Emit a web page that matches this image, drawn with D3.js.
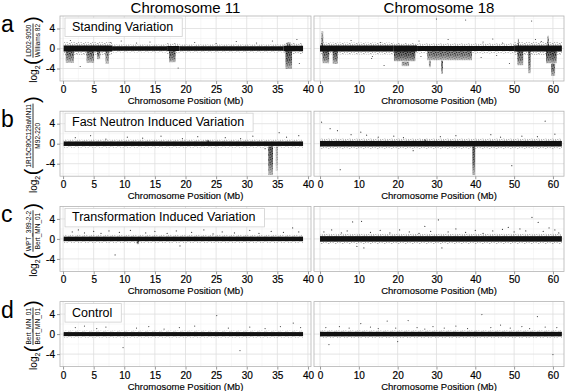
<!DOCTYPE html>
<html>
<head>
<meta charset="utf-8">
<script src="https://cdn.jsdelivr.net/npm/d3@7"></script>
<style>
  body { margin: 0; background: #fff; }
  svg { display: block; font-family: 'Liberation Sans', Arial, Helvetica, sans-serif; }
</style>
</head>
<body>
<svg id="chart" width="568" height="391"></svg>
<script>
/**
 * Data.
 */
const chromosomes = ['Chromosome 11', 'Chromosome 18'];
const panelLetters = ['a', 'b', 'c', 'd'];
const rowTitles = ['Standing Variation', 'Fast Neutron Induced Variation',
    'Transformation Induced Variation', 'Control'];
const numerators = ['LD02-9050', '1R15C80C129aMN11', 'WPT_389-2-2', 'Bert_MN_01'];
const denominators = ['Williams 82', 'M92-220', 'Bert_MN_01', 'Bert_MN_01'];

const xTicks11 = [0, 5, 10, 15, 20, 25, 30, 35, 40];
const xTicks18 = [0, 10, 20, 30, 40, 50, 60];
const yTicks = [-4, 0, 4];
const yMinorTicks = [-6, -2, 2, 6];

// band: [start Mb, end Mb, core half-width, spread half-width] (log2 units)
// clusters: [start Mb, end Mb, low, high, density]
// points: [Mb, log2 ratio]

// a - Standing variation
const bandA11 = [[0.1, 8, 0.6, 1.3], [8, 17, 0.45, 0.8], [17, 19, 0.5, 1.1], [19, 36, 0.45, 0.8], [36, 39.2, 0.55, 1.1]];
const clustersA11 = [[0.4, 1.8, -2.9, -0.5, 0.8], [3.8, 5.1, -2.9, -0.5, 0.8], [5.5, 6.1, -2.2, -0.5, 0.7],
    [6.9, 7.5, -3.1, -0.5, 0.7], [17.3, 18.4, -2.8, -0.5, 0.9], [36.3, 37.4, -4.1, -0.5, 1.0], [36.5, 37.2, 0.5, 1.3, 0.6]];
const pointsA11 = [[1.2, 1.6], [2.8, -3.6], [7.8, 1.2], [9.5, 1.5], [12, 1.1], [14.2, 1.3], [18.8, -3.9], [21.5, 1.2],
    [25, 1.0], [28.3, 1.4], [31.6, 1.1], [34.2, 1.5], [38.2, 1.8], [38.6, -3.0]];

const bandA18 = [[0, 19, 0.6, 1.2], [19, 25, 0.6, 1.1], [25, 50, 0.5, 1.0], [50, 62.3, 0.6, 1.3]];
const clustersA18 = [[0.3, 0.9, 0.5, 3.5, 0.7], [0.6, 2.4, -3.0, -0.5, 0.9], [3.2, 4.6, -3.1, -0.5, 0.9],
    [19.0, 24.6, -2.6, -0.5, 1.0], [21.0, 23.0, -3.6, -2.6, 0.6], [27.6, 39.2, -2.4, -0.5, 0.8],
    [28.0, 28.6, -3.8, -2.4, 0.6], [31.2, 31.7, -5.1, -2.4, 0.9], [50.8, 52.4, -3.4, -0.5, 0.9],
    [50.9, 51.3, 0.5, 2.0, 0.7], [53.6, 54.3, -5.0, -0.5, 0.9], [58.2, 61.0, -3.0, -0.5, 1.0],
    [59.5, 60.6, -5.5, -3.0, 0.8], [58.5, 59.0, 0.5, 2.6, 0.7]];
const pointsA18 = [[13.3, -2.0], [13.5, -1.6], [30.0, 5.9], [37.5, 5.7], [54.5, 5.5], [8, 1.6], [15.6, 1.2],
    [25.5, 1.5], [33, 1.8], [42, 1.3], [44.5, 1.9], [47, 1.1], [55.5, 1.8], [16.5, -3.4], [26, -1.6],
    [41.5, -1.8], [45.5, -1.4], [48.8, -3.0], [57, 1.4]];

// b - Fast neutron induced variation
const bandB11 = [[0.1, 39.2, 0.45, 0.8]];
const clustersB11 = [[23.4, 23.9, 0.3, 0.8, 0.9], [33.5, 34.3, -6.3, -0.5, 1.0], [34.7, 35.1, -5.5, -0.5, 0.4]];
const pointsB11 = [[2, 1.2], [4.5, 1.6], [7, 0.9], [10.5, 1.3], [13, 1.1], [16, 1.5], [19.5, 1.0], [22, 1.4],
    [26.5, 1.2], [29, 1.0], [31, 1.5], [35.3, 2.2], [36.5, 1.3], [38.5, 1.6], [33.0, -1.0]];

const bandB18 = [[0, 62.3, 0.55, 1.0]];
const clustersB18 = [[26.8, 27.4, 0.4, 0.9, 0.9], [39.2, 40.0, -6.3, -0.5, 1.0]];
const pointsB18 = [[0.4, 4.3], [2.6, 3.0], [4.5, 2.6], [5.2, -5.2], [8, 1.8], [10.5, 2.3], [12, 1.7], [15, 1.3],
    [19, 1.5], [21.5, 1.2], [24, -1.4], [31, 1.4], [35, 1.6], [44, 1.8], [46.5, 1.3], [49.4, -4.4], [52, 1.5],
    [56, 1.4], [58, 4.5], [60.5, 1.9]];

// c - Transformation induced variation
const bandC11 = [[0.1, 39.2, 0.45, 0.8]];
const clustersC11 = [[12.0, 12.4, -1.1, -0.4, 0.9]];
const pointsC11 = [[1.5, 1.4], [2.5, 1.8], [3.5, 1.2], [5, 1.5], [6.2, 1.1], [7.5, 1.6], [8.5, -3.2], [9.2, 1.3],
    [11, 1.7], [13.5, 1.2], [15, 1.5], [17, 1.1], [18.5, 1.6], [19.1, -1.4], [21, 1.3], [23, 1.8], [24.5, 1.0],
    [26, 1.4], [28, 1.2], [30.5, 1.7], [32, 1.1], [34, 1.5], [36, 1.3], [37.5, 2.2], [38.5, 1.4]];

const bandC18 = [[0, 62.3, 0.55, 1.0]];
const clustersC18 = [];
const pointsC18 = [[1, 1.4], [3, 1.8], [5.5, 1.2], [7, 1.6], [8.4, 3.4], [9.5, -1.5], [10.7, 3.5], [11.3, -1.8],
    [13, 1.3], [15.5, 1.7], [18, 1.2], [20.5, 1.8], [23, 1.4], [25.5, 1.1], [27, 2.5], [28.5, 1.5], [30.5, 3.8],
    [31.4, -1.8], [33, 1.4], [35, 2.0], [37.5, 1.3], [40, 1.7], [42, 1.1], [44.5, 1.6], [47, 1.9], [48.5, 2.3],
    [50, 1.4], [51.5, 2.0], [53, 1.6], [54.6, 4.3], [56.2, 3.3], [57.5, 1.5], [59, 2.2], [60.5, 1.8], [61.5, 1.2]];

// d - Control
const bandD11 = [[0.1, 39.2, 0.4, 0.7]];
const clustersD11 = [];
const pointsD11 = [[2, 1.3], [3.5, 1.6], [5.5, 1.1], [7, 1.4], [9.8, -2.7], [12, 1.2], [14, 1.5], [16.5, 1.0],
    [19, 1.3], [21.5, 1.6], [25.1, 3.7], [27, 1.2], [28.9, -3.3], [30.5, 1.4], [33, 1.1], [35.5, 1.5],
    [37.6, 2.2], [38.8, 1.3]];

const bandD18 = [[0, 62.3, 0.45, 0.75]];
const clustersD18 = [];
const pointsD18 = [[1.5, 1.3], [2.3, -2.1], [5, 1.5], [7.5, 1.2], [10.5, 2.1], [13, 1.4], [15, 1.1], [17.3, 2.6],
    [19.5, 1.2], [20, -1.5], [22.7, 2.7], [25, 1.3], [27, 1.0], [29.1, 1.5], [32, 1.2], [35, 1.6], [38, 1.1],
    [41.7, 3.9], [44, 1.3], [46.5, 1.8], [49, 1.2], [52, 1.5], [54, 1.1], [56, 3.5], [58, 1.4], [60, -4.1],
    [61, 1.3]];

/**
 * Panel table built from the arrays above.
 */
const panels = [
    { row: 0, col: 0, band: bandA11, clusters: clustersA11, points: pointsA11 },
    { row: 0, col: 1, band: bandA18, clusters: clustersA18, points: pointsA18 },
    { row: 1, col: 0, band: bandB11, clusters: clustersB11, points: pointsB11 },
    { row: 1, col: 1, band: bandB18, clusters: clustersB18, points: pointsB18 },
    { row: 2, col: 0, band: bandC11, clusters: clustersC11, points: pointsC11 },
    { row: 2, col: 1, band: bandC18, clusters: clustersC18, points: pointsC18 },
    { row: 3, col: 0, band: bandD11, clusters: clustersD11, points: pointsD11 },
    { row: 3, col: 1, band: bandD18, clusters: clustersD18, points: pointsD18 }
];

/**
 * Layout.
 */
const colLeft = [60, 314], colRight = [311, 564];
const xDomains = [[-0.5, 40.5], [-1.55, 62.85]];
const xTickSets = [xTicks11, xTicks18];
const rowTop = i => 16 + 95.2 * i;
const panelH = 65;
const yDomain = [-6.5, 6.5];

const svg = d3.select('#chart');
const defs = svg.append('defs');

// speckle texture standing in for dense overplotted points
const speck = defs.append('pattern')
    .attr('id', 'speck')
    .attr('patternUnits', 'userSpaceOnUse')
    .attr('width', 7).attr('height', 5);
[[0.5, 0.7], [2.8, 0.3], [5.9, 1.1], [1.6, 2.2], [4.1, 2.6], [0.3, 4.1], [6.4, 3.6], [2.6, 4.3], [4.8, 4.6]]
    .forEach(([cx, cy]) => {
        speck.append('circle').attr('cx', cx).attr('cy', cy).attr('r', 0.55).attr('fill', '#000');
    });

// fades so clusters thin out away from the band
[['fadeDown', 0, 1], ['fadeUp', 1, 0]].forEach(([id, y1, y2]) => {
    const grad = defs.append('linearGradient').attr('id', 'g-' + id)
        .attr('x1', 0).attr('x2', 0).attr('y1', y1).attr('y2', y2);
    grad.append('stop').attr('offset', 0).attr('stop-color', '#fff');
    grad.append('stop').attr('offset', 0.55).attr('stop-color', '#ddd');
    grad.append('stop').attr('offset', 1).attr('stop-color', '#666');
    defs.append('mask').attr('id', id).attr('maskContentUnits', 'objectBoundingBox')
        .append('rect').attr('width', 1).attr('height', 1).attr('fill', `url(#g-${id})`);
});

const xScales = [0, 1].map(c => d3.scaleLinear().domain(xDomains[c]).range([colLeft[c], colRight[c]]));
const yScales = [0, 1, 2, 3].map(r => d3.scaleLinear().domain(yDomain).range([rowTop(r) + panelH, rowTop(r)]));

/**
 * Column titles.
 */
svg.selectAll('text.col-title')
    .data(chromosomes)
    .join('text')
        .attr('class', 'col-title')
        .attr('x', (d, i) => (colLeft[i] + colRight[i]) / 2)
        .attr('y', 12.5)
        .attr('text-anchor', 'middle')
        .attr('font-size', 15)
        .text(d => d);

/**
 * Panels.
 */
panels.forEach(p => {
    const x = xScales[p.col], y = yScales[p.row];
    const top = rowTop(p.row), bottom = top + panelH;
    const left = colLeft[p.col], right = colRight[p.col];
    const ticks = xTickSets[p.col];
    const minor = ticks.slice(1).map((t, i) => (t + ticks[i]) / 2);
    const g = svg.append('g').attr('class', 'panel');
    const clipId = `clip-${p.row}-${p.col}`;
    defs.append('clipPath').attr('id', clipId)
        .append('rect').attr('x', left).attr('y', top).attr('width', right - left).attr('height', panelH);

    // grid
    const grid = g.append('g');
    grid.selectAll('line.vminor').data(minor).join('line')
        .attr('x1', d => x(d)).attr('x2', d => x(d)).attr('y1', top).attr('y2', bottom)
        .attr('stroke', '#efefef').attr('stroke-width', 0.5);
    grid.selectAll('line.hminor').data(yMinorTicks).join('line')
        .attr('x1', left).attr('x2', right).attr('y1', d => y(d)).attr('y2', d => y(d))
        .attr('stroke', '#efefef').attr('stroke-width', 0.5);
    grid.selectAll('line.vmajor').data(ticks).join('line')
        .attr('x1', d => x(d)).attr('x2', d => x(d)).attr('y1', top).attr('y2', bottom)
        .attr('stroke', '#dedede').attr('stroke-width', 0.8);
    grid.selectAll('line.hmajor').data(yTicks).join('line')
        .attr('x1', left).attr('x2', right).attr('y1', d => y(d)).attr('y2', d => y(d))
        .attr('stroke', '#dedede').attr('stroke-width', 0.8);

    const data = g.append('g').attr('clip-path', `url(#${clipId})`);

    // sparse halo around the main band
    data.selectAll('rect.halo').data(p.band).join('rect')
        .attr('x', d => x(d[0])).attr('width', d => x(d[1]) - x(d[0]))
        .attr('y', d => y(d[3])).attr('height', d => y(-d[3]) - y(d[3]))
        .attr('fill', 'url(#speck)').attr('opacity', 0.45);

    // clusters of deviating windows
    const clusters = data.selectAll('g.cluster').data(p.clusters).join('g')
        .attr('mask', d => d[2] >= 0 ? 'url(#fadeUp)' : 'url(#fadeDown)');
    clusters.append('rect')
        .attr('x', d => x(d[0])).attr('width', d => Math.max(1, x(d[1]) - x(d[0])))
        .attr('y', d => y(d[3])).attr('height', d => y(d[2]) - y(d[3]))
        .attr('fill', '#000').attr('opacity', d => d[4] * 0.6);
    clusters.append('rect')
        .attr('x', d => x(d[0])).attr('width', d => Math.max(1, x(d[1]) - x(d[0])))
        .attr('y', d => y(d[3])).attr('height', d => y(d[2]) - y(d[3]))
        .attr('fill', 'url(#speck)').attr('opacity', d => d[4]);

    // core band
    data.selectAll('rect.core').data(p.band).join('rect')
        .attr('x', d => x(d[0])).attr('width', d => x(d[1]) - x(d[0]))
        .attr('y', d => y(d[2])).attr('height', d => y(-d[2]) - y(d[2]))
        .attr('fill', '#111');

    // outlying windows
    data.selectAll('circle').data(p.points).join('circle')
        .attr('cx', d => x(d[0])).attr('cy', d => y(d[1])).attr('r', 0.6)
        .attr('fill', '#444');

    // border
    g.append('rect')
        .attr('x', left).attr('y', top).attr('width', right - left).attr('height', panelH)
        .attr('fill', 'none').attr('stroke', '#b3b3b3').attr('stroke-width', 0.8);

    // axes
    const xAxis = d3.axisBottom(x).tickValues(ticks).tickSize(3).tickPadding(2).tickFormat(d => String(d));
    const xg = g.append('g').attr('transform', `translate(0,${bottom})`).call(xAxis);
    xg.select('.domain').remove();
    xg.selectAll('line').attr('stroke', '#999');
    xg.selectAll('text').attr('font-size', 10).attr('fill', '#000').attr('font-family', null)
        .attr('stroke', '#000').attr('stroke-width', 0.2);

    g.append('text')
        .attr('x', (left + right) / 2).attr('y', bottom + 23)
        .attr('text-anchor', 'middle').attr('font-size', 9.5)
        .attr('stroke', '#000').attr('stroke-width', 0.15)
        .text('Chromosome Position (Mb)');

    if (p.col === 0) {
        const yAxis = d3.axisLeft(y).tickValues(yTicks).tickSize(3).tickPadding(2).tickFormat(d => String(d));
        const yg = g.append('g').attr('transform', `translate(${left},0)`).call(yAxis);
        yg.select('.domain').remove();
        yg.selectAll('line').attr('stroke', '#999');
        yg.selectAll('text').attr('font-size', 10).attr('fill', '#000').attr('font-family', null)
            .attr('stroke', '#000').attr('stroke-width', 0.2);

        // panel letter
        g.append('text').attr('x', 1).attr('y', top + 16).attr('font-size', 23).text(panelLetters[p.row]);

        // label box
        const lbl = g.append('g');
        const lt = lbl.append('text').attr('x', left + 12).attr('y', top + 15)
            .attr('font-size', 12.5).text(rowTitles[p.row]);
        const w = lt.node().getComputedTextLength();
        lbl.insert('rect', 'text')
            .attr('x', left + 5).attr('y', top + 2).attr('width', w + 16).attr('height', 18.5)
            .attr('fill', '#fff').attr('stroke', '#d0d0d0').attr('stroke-width', 0.8);

        drawYTitle(g, numerators[p.row], denominators[p.row], 33, top + panelH / 2 + 1);
    }
});

/**
 * Y axis title: log2( numerator / denominator ), rotated.
 */
function drawYTitle(g, num, den, cx, cy) {
    const t = g.append('g').attr('transform', `translate(${cx},${cy}) rotate(-90)`);
    const inner = t.append('g');
    let u = 0;
    const log = inner.append('text').attr('x', u).attr('y', 3.8).attr('font-size', 10).text('log');
    u += log.node().getComputedTextLength();
    const sub = inner.append('text').attr('x', u).attr('y', 6.8).attr('font-size', 7).text('2');
    u += sub.node().getComputedTextLength() + 0.5;
    const lp = inner.append('text').attr('x', u).attr('y', 5.8).attr('font-size', 20).text('(');
    u += lp.node().getComputedTextLength() + 0.5;
    const numT = inner.append('text').attr('y', -1.6).attr('font-size', 6.5).attr('text-anchor', 'middle').text(num);
    const denT = inner.append('text').attr('y', 6.6).attr('font-size', 6.5).attr('text-anchor', 'middle').text(den);
    const fw = Math.max(numT.node().getComputedTextLength(), denT.node().getComputedTextLength()) + 1;
    numT.attr('x', u + fw / 2);
    denT.attr('x', u + fw / 2);
    inner.append('line').attr('x1', u).attr('x2', u + fw).attr('y1', 0).attr('y2', 0)
        .attr('stroke', '#000').attr('stroke-width', 0.8);
    u += fw + 0.5;
    const rp = inner.append('text').attr('x', u).attr('y', 5.8).attr('font-size', 20).text(')');
    u += rp.node().getComputedTextLength();
    inner.attr('transform', `translate(${-u / 2},0)`);
}
</script>
</body>
</html>
